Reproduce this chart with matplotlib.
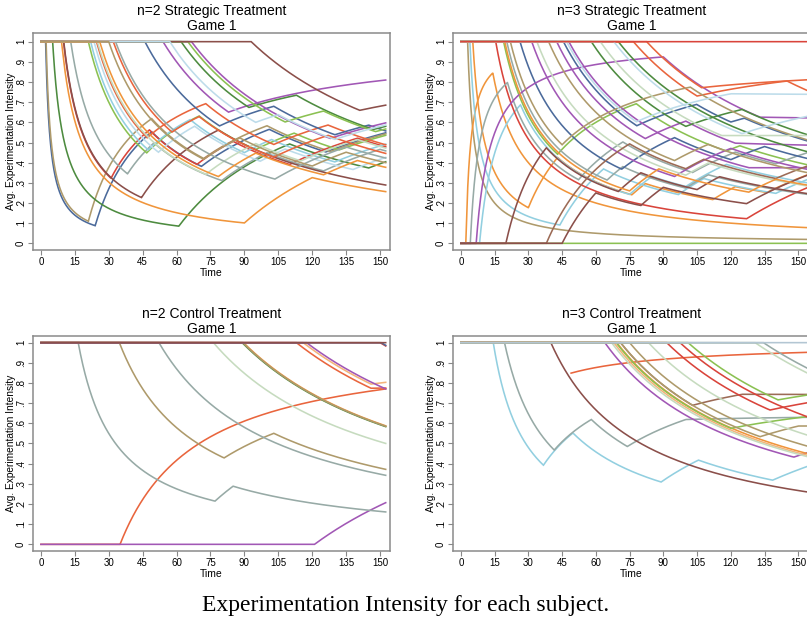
import numpy as np
import matplotlib
matplotlib.use('Agg')
import matplotlib.pyplot as plt

plt.rcParams['font.family'] = ['Liberation Sans', 'DejaVu Sans']

# colours of the subject lines
BLUE = '#4b6a9b'
ORANGE = '#f0953b'
LTORANGE = '#f4b47a'
DKGREEN = '#4d8b3f'
RED = '#d9443b'
PURPLE = '#a157b5'
BROWN = '#8b4f4a'
LTBROWN = '#9c6b56'
LTBLUE = '#92cfe0'
TAN = '#ae9a6b'
GRAYTEAL = '#97aaa6'
LIME = '#8bc152'
PALEGREEN = '#c6dbbf'
PALEBLUE = '#bddcea'
ORANGERED = '#e9653d'
STEEL = '#b3c6d3'

# each subject: list of (time, experimentation level from that time on)
N2S_SUBJECTS = [
    [(0, 1), (2.1, 0), (24, 1), (49, 0), (71, 1), (101, 0), (126, 1)],
    [(0, 1), (2.3, 0), (21, 1), (49, 0), (72, 1), (100, 0), (128, 1)],
    [(0, 1), (5.2, 0), (61, 1), (110, 0), (145, 1)],
    [(0, 1), (9.1, 0), (90, 1), (120, 0)],
    [(0, 1), (10, 0), (31, 1), (48, 0), (69, 1), (85, 0), (110, 1), (140, 0)],
    [(0, 1), (13.2, 0), (38.3, 1), (50, 0), (80, 1), (100, 0), (125, 1), (150, 0)],
    [(0, 1), (21, 0), (46.8, 1), (70, 0), (95, 1), (112, 0), (132, 1)],
    [(0, 1), (22, 0), (47.5, 1), (66, 0), (90, 1), (102, 0), (130, 1)],
    [(0, 1), (23.5, 0), (52, 1), (68, 0), (97, 1), (108, 0), (138, 1)],
    [(0, 1), (24.6, 0), (47, 1), (72.9, 0), (103, 1), (127, 0)],
    [(0, 1), (10.1, 0), (44.5, 1), (78.5, 0)],
    [(0, 1), (25, 0), (73, 1), (95, 0), (115, 1), (140, 0)],
    [(0, 1), (33, 0), (103.5, 1), (135, 0)],
    [(0, 1), (46, 0), (79, 1), (103, 0), (130, 1), (145, 0)],
    [(0, 1), (54, 0), (83, 1)],
    [(0, 1), (66.6, 0), (128, 1)],
    [(0, 1), (62, 0), (92, 1), (113, 0), (147, 1)],
    [(0, 1), (65, 0), (108, 1), (125, 0), (148, 1)],
    [(0, 1), (93, 0), (141, 1)],
    [(0, 1), (32, 0), (58, 1), (70, 0), (103, 1), (127, 0)],
    [(0, 1), (57, 0), (95, 1), (105, 0), (130, 1)],
    [(0, 1), (26, 0), (78.5, 1), (95, 0), (125, 1), (140, 0)],
    [(0, 1), (30, 0), (72, 1), (88, 0), (120, 1), (135, 0)],
]
N2S_COLORS = [BLUE, TAN, DKGREEN, ORANGE, RED, GRAYTEAL, LIME, LTBLUE, PALEBLUE,
              ORANGERED, BROWN, PALEGREEN, GRAYTEAL, BLUE, PURPLE, PURPLE, DKGREEN,
              LIME, BROWN, ORANGERED, PALEBLUE, ORANGE, TAN]

N3S_SUBJECTS = [
    [(0, 1), (3, 0)],
    [(0, 0)],
    [(0, 0), (2.2, 1), (14.2, 0)],
    [(0, 1), (5.3, 0), (30, 1), (43, 0), (76, 1), (82, 0), (112, 1), (122, 0), (136, 1)],
    [(0, 1), (4, 0), (44, 1), (63.4, 0), (96.7, 1), (108, 0), (140, 1)],
    [(0, 0), (8.3, 1), (26.5, 0), (75, 1), (85, 0), (100, 1), (118, 0)],
    [(0, 1), (15.5, 0), (127, 1)],
    [(0, 1), (19, 0), (43, 1), (78, 0), (118, 1), (124, 0)],
    [(0, 0), (4.2, 1), (20.7, 0), (52.3, 1), (72, 0), (103, 1), (122, 0), (140, 1)],
    [(0, 1), (20.4, 0), (65, 1), (72, 0), (100, 1), (110, 0)],
    [(0, 1), (26.3, 0), (71.5, 1), (95, 0), (120, 1), (135, 0)],
    [(0, 1), (45.6, 0), (78.2, 1), (104.8, 0), (120, 1), (126, 0)],
    [(0, 0), (6.8, 1), (90, 0), (133, 0.6)],
    [(0, 1), (31.5, 0), (95, 1), (120, 0)],
    [(0, 1), (42.6, 0), (82, 1), (100, 0), (122, 0.45)],
    [(0, 1), (48, 0), (128, 0.375)],
    [(0, 1), (33.8, 0), (100, 1), (110, 0)],
    [(0, 1), (58, 0), (100, 1), (125, 0)],
    [(0, 1), (70, 0)],
    [(0, 1), (76.7, 0), (105, 1), (145, 0)],
    [(0, 1), (82.6, 0), (107, 0.9)],
    [(0, 1), (22, 0), (45, 1), (102, 0)],
    [(0, 1), (62, 0), (116, 0.535)],
    [(0, 1), (47, 0), (78, 1), (120, 0.73)],
    [(0, 0), (20, 1), (38, 0), (70, 1), (80, 0), (105, 1), (115, 0)],
    [(0, 0), (38, 1), (75, 0), (100, 1), (108, 0), (140, 1)],
    [(0, 0), (45, 1), (60, 0), (80, 1), (90, 0), (127, 1)],
    [(0, 1), (19.5, 0), (75, 1), (88, 0), (128, 1), (140, 0)],
    [(0, 1), (39, 0), (95, 1), (110, 0)],
    [(0, 1), (68, 0), (125, 1)],
    [(0, 1)],
]
N3S_COLORS = [TAN, LIME, ORANGE, ORANGE, LTBLUE, LTBLUE, RED, LIME, GRAYTEAL, GRAYTEAL,
              BLUE, BLUE, PURPLE, PURPLE, PURPLE, PURPLE, PALEGREEN, DKGREEN, DKGREEN,
              ORANGERED, ORANGERED, TAN, PALEGREEN, PALEBLUE, BROWN, LTBROWN, BROWN,
              ORANGE, TAN, PALEBLUE, RED]

N2C_SUBJECTS = [
    [(0, 0), (35, 1)],
    [(0, 0), (121, 1)],
    [(0, 1), (16.5, 0), (77, 1), (85, 0)],
    [(0, 1), (34.7, 0), (81, 1), (103, 0)],
    [(0, 1), (52.2, 0)],
    [(0, 1), (76.3, 0)],
    [(0, 1), (89, 0)],
    [(0, 1), (89.6, 0)],
    [(0, 1), (89.3, 0)],
    [(0, 1), (113, 0), (146, 0.8)],
    [(0, 1), (116, 0), (146, 1)],
    [(0, 1), (117.5, 0)],
    [(0, 1), (150, 0)],
    [(0, 1), (150.5, 0)],
    [(0, 1)],
]
N2C_COLORS = [ORANGERED, PURPLE, GRAYTEAL, TAN, GRAYTEAL, PALEGREEN, DKGREEN, ORANGE,
              TAN, ORANGERED, LTORANGE, PURPLE, RED, BLUE, BROWN]

N3C_SUBJECTS = [
    [(0, 1), (14.4, 0), (36.7, 1), (49.8, 0), (89, 1), (105.6, 0), (138.6, 1)],
    [(0, 1), (19.4, 0), (41.5, 1), (58, 0), (74, 1), (100, 0.65)],
    [(0, 1), (40, 0)],
    [(0, 1), (41.6, 0), (49, 1)],
    [(0, 1), (71, 0), (103, 1), (125, 0.74)],
    [(0, 1), (64, 0), (148, 1)],
    [(0, 1), (69.3, 0)],
    [(0, 1), (69, 0), (120, 0.84)],
    [(0, 1), (68, 0)],
    [(0, 1), (67, 0)],
    [(0, 1), (75, 0)],
    [(0, 1), (71, 0), (133, 1), (150, 0.59)],
    [(0, 1), (83.4, 0)],
    [(0, 1), (91.5, 0), (137.4, 1)],
    [(0, 1), (97.4, 0)],
    [(0, 1), (101, 0), (141, 1)],
    [(0, 1), (130.8, 0)],
    [(0, 1), (134.5, 0)],
    [(0, 1)],
]
N3C_COLORS = [LTBLUE, GRAYTEAL, BROWN, ORANGERED, LTBROWN, PURPLE, ORANGE, LIME,
              LTORANGE, PALEGREEN, TAN, TAN, PALEGREEN, RED, RED, LIME, PALEGREEN,
              GRAYTEAL, STEEL]
N3C_FIRST_SEEN = {3: 49}

PANELS = [
    ('n=2 Strategic Treatment', N2S_SUBJECTS, N2S_COLORS, {}, 152.5),
    ('n=3 Strategic Treatment', N3S_SUBJECTS, N3S_COLORS, {}, 156),
    ('n=2 Control Treatment', N2C_SUBJECTS, N2C_COLORS, {}, 152.5),
    ('n=3 Control Treatment', N3C_SUBJECTS, N3C_COLORS, N3C_FIRST_SEEN, 156),
]

XTICKS = np.arange(0, 151, 15)
YTICKS = np.round(np.arange(0, 1.01, 0.1), 1)
YTICKLABELS = ['0', '.1', '.2', '.3', '.4', '.5', '.6', '.7', '.8', '.9', '1']


def running_average(steps, t):
    """Average experimentation intensity up to each time."""
    cum = np.zeros_like(t)
    for i, (t0, lev) in enumerate(steps):
        t1 = steps[i + 1][0] if i + 1 < len(steps) else np.inf
        cum += lev * np.clip(t - t0, 0, t1 - t0)
    avg = np.full_like(t, float(steps[0][1]))
    pos = t > 0
    avg[pos] = cum[pos] / t[pos]
    return avg


fig = plt.figure(figsize=(8.07, 6.29), dpi=100)
W, H = 807, 629
# pixel boxes (left, top, right, bottom)
boxes = [(33, 33, 390, 250), (453, 33, 810, 250),
         (33, 336, 390, 551), (453, 336, 810, 551)]
xlims = [(-3.5, 154.4), (-3.5, 155.2), (-3.5, 154.4), (-3.5, 155.2)]
ylims = [(-0.033, 1.043), (-0.033, 1.043), (-0.033, 1.033), (-0.033, 1.033)]

for (title, subjects, colors, first_seen, t_end), (l, tp, r, b), xl, yl in zip(PANELS, boxes, xlims, ylims):
    ax = fig.add_axes([l / W, 1 - b / H, (r - l) / W, (b - tp) / H])
    t = np.linspace(0, t_end, 2500)
    for i, (steps, c) in enumerate(zip(subjects, colors)):
        y = running_average(steps, t)
        if i in first_seen:
            y = np.where(t >= first_seen[i], y, np.nan)
        ax.plot(t, y, color=c, lw=1.15, solid_joinstyle='miter')
    ax.set_xlim(*xl)
    ax.set_ylim(*yl)
    ax.set_xticks(XTICKS)
    ax.set_xticklabels([str(v) for v in XTICKS], fontsize=7)
    ax.set_yticks(YTICKS)
    ax.set_yticklabels(YTICKLABELS, fontsize=7, rotation=90, va='center')
    ax.tick_params(direction='out', length=3.5, width=0.8, color='#888888', pad=1.5)
    for s in ax.spines.values():
        s.set_color('#8a8a8a')
        s.set_linewidth(1.1)
    ax.set_xlabel('Time', fontsize=7.5, labelpad=1)
    ax.set_ylabel('Avg. Experimentation Intensity', fontsize=7.3, labelpad=0)
    ax.set_title(title + '\nGame 1', fontsize=10, linespacing=1.02, pad=2.5)

fig.text(0.503, 1 - 605 / H, 'Experimentation Intensity for each subject.',
         ha='center', va='center', fontsize=17, family='Liberation Serif')

fig.savefig('out.png', dpi=100)
